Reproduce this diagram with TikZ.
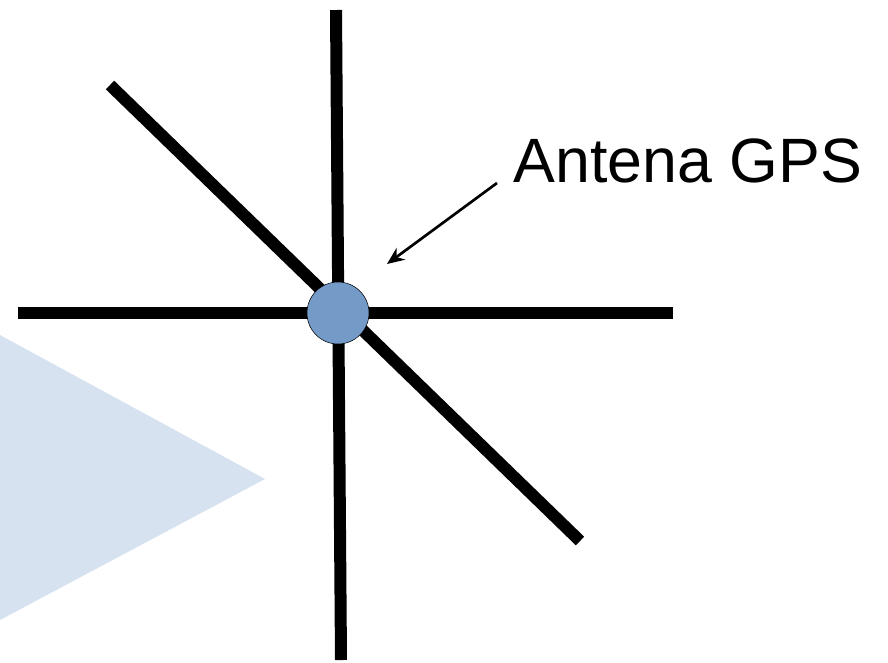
\documentclass[tikz,border=0pt]{standalone}
\usepackage{fontspec}
\setmainfont{Liberation Sans}
\usetikzlibrary{arrows.meta, positioning}

\definecolor{gpsblue}{RGB}{116,154,200}
\definecolor{paleblue}{RGB}{214,226,240}

\begin{document}
\begin{tikzpicture}[
    x=0.75pt, y=-0.75pt,
    bar/.style={line width=9pt, black},
    antenna/.style={circle, draw, thin, fill=gpsblue, minimum size=46.5pt, inner sep=0pt},
    callout/.style={font=\fontsize{47}{56}\selectfont, inner sep=0pt},
    arrow/.style={-{Stealth[length=13pt, width=11pt]}, line width=2pt}
]
\useasboundingbox (0,0) rectangle (888,662);

% pale shaded wedge on the left
\fill[paleblue] (0,335) -- (265,479) -- (0,620) -- cycle;

% the antenna arms
\draw[bar] (18,313) -- (673,313);
\draw[bar] (336,10) -- (341,660);
\draw[bar] (110,85) -- (580,541);

\node[antenna] (gps) at (338,313) {};
\node[callout] (label) at (688,161) {Antena GPS};

\coordinate (tail) at (497,183);
\coordinate (tip) at (387,264);
\draw[arrow] (tail) -- (tip);
\end{tikzpicture}
\end{document}
